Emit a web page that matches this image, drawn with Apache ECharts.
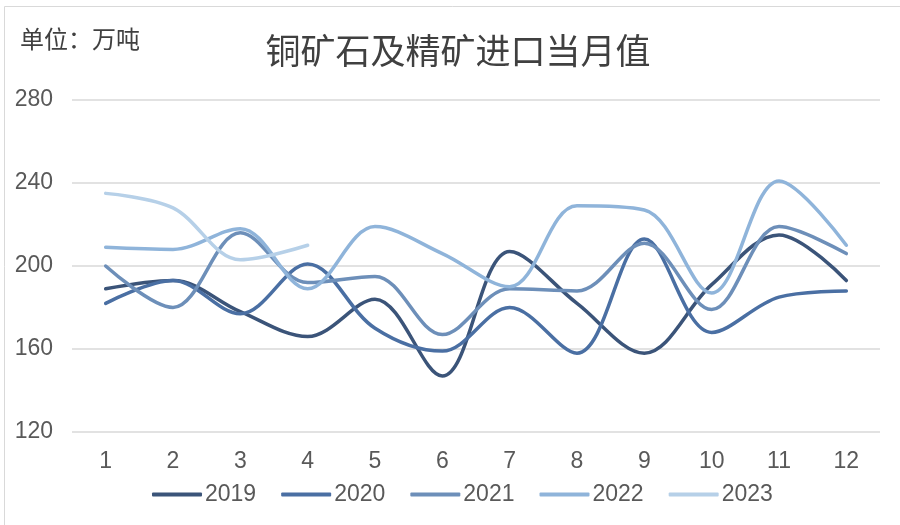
<!DOCTYPE html>
<html>
<head>
<meta charset="UTF-8">
<title>铜矿石及精矿进口当月值</title>
<script src="https://cdn.jsdelivr.net/npm/echarts@6/dist/echarts.min.js"></script>
<style>
  html, body { margin: 0; padding: 0; background: #ffffff; }
  #container { width: 900px; height: 525px; }
</style>
</head>
<body>
<div id="container"></div>
<script type="text/javascript">
// data
var months = ['1', '2', '3', '4', '5', '6', '7', '8', '9', '10', '11', '12'];
var seriesNames = ['2019', '2020', '2021', '2022', '2023'];
var v2019 = [189, 193, 178, 166, 184, 147, 207, 182, 158, 191, 215, 193];
var v2020 = [182, 193, 177, 201, 170, 159, 180, 158, 213, 168, 185, 188];
var v2021 = [200, 180, 216, 192, 195, 167, 189, 188, 211, 179, 219, 206];
var v2022 = [209, 208, 218, 189, 219, 206, 190, 229, 227, 187, 241, 210];
var v2023 = [235, 228, 203, 210];
var colorsList = ['#3b5479', '#4a6fa3', '#6d8fb9', '#8fb4da', '#b6d0e8'];

var fontFamily = '"Liberation Sans", "Noto Sans CJK SC", sans-serif';
var allValues = [v2019, v2020, v2021, v2022, v2023];

var dom = document.getElementById('container');
var myChart = echarts.init(dom);

var option = {
    animation: false,
    textStyle: { fontFamily: fontFamily },
    color: colorsList,
    graphic: [{
        type: 'rect',
        shape: { x: 4.5, y: 6.5, width: 1000, height: 1000 },
        style: { fill: 'none', stroke: '#d9d9d9', lineWidth: 1 }
    }, {
        type: 'text',
        left: 20,
        top: 27,
        style: { text: '单位：万吨', fill: '#404040', font: '24px "Noto Sans CJK SC", sans-serif' }
    }],
    title: {
        text: '铜矿石及精矿进口当月值',
        left: 453,
        textAlign: 'center',
        top: 28,
        textStyle: { fontSize: 35, fontWeight: 'normal', color: '#404040', fontFamily: '"Noto Sans CJK SC", sans-serif' }
    },
    legend: {
        bottom: 14,
        left: 147,
        itemWidth: 50,
        itemHeight: 4,
        itemGap: 25,
        icon: 'roundRect',
        textStyle: { fontSize: 23, color: '#595959', padding: [0, 0, 0, -2] },
        data: seriesNames
    },
    grid: { left: 72, right: 20, top: 100, bottom: 93 },
    xAxis: {
        type: 'category',
        data: months,
        boundaryGap: true,
        axisLine: { show: false },
        axisTick: { show: false },
        axisLabel: { fontSize: 23, color: '#595959', margin: 18 }
    },
    yAxis: {
        type: 'value',
        min: 120,
        max: 280,
        interval: 40,
        axisLine: { show: false },
        axisTick: { show: false },
        axisLabel: { fontSize: 23, color: '#595959', margin: 19 },
        splitLine: { lineStyle: { color: '#d9d9d9', width: 1.5 } }
    },
    series: []
};

for (var i = 0; i < seriesNames.length; i++) {
    option.series.push({
        name: seriesNames[i],
        type: 'line',
        data: allValues[i],
        smooth: 0.35,
        symbol: 'none',
        lineStyle: { width: 3.5, color: colorsList[i], cap: 'round' }
    });
}

myChart.setOption(option, true);
</script>
</body>
</html>
